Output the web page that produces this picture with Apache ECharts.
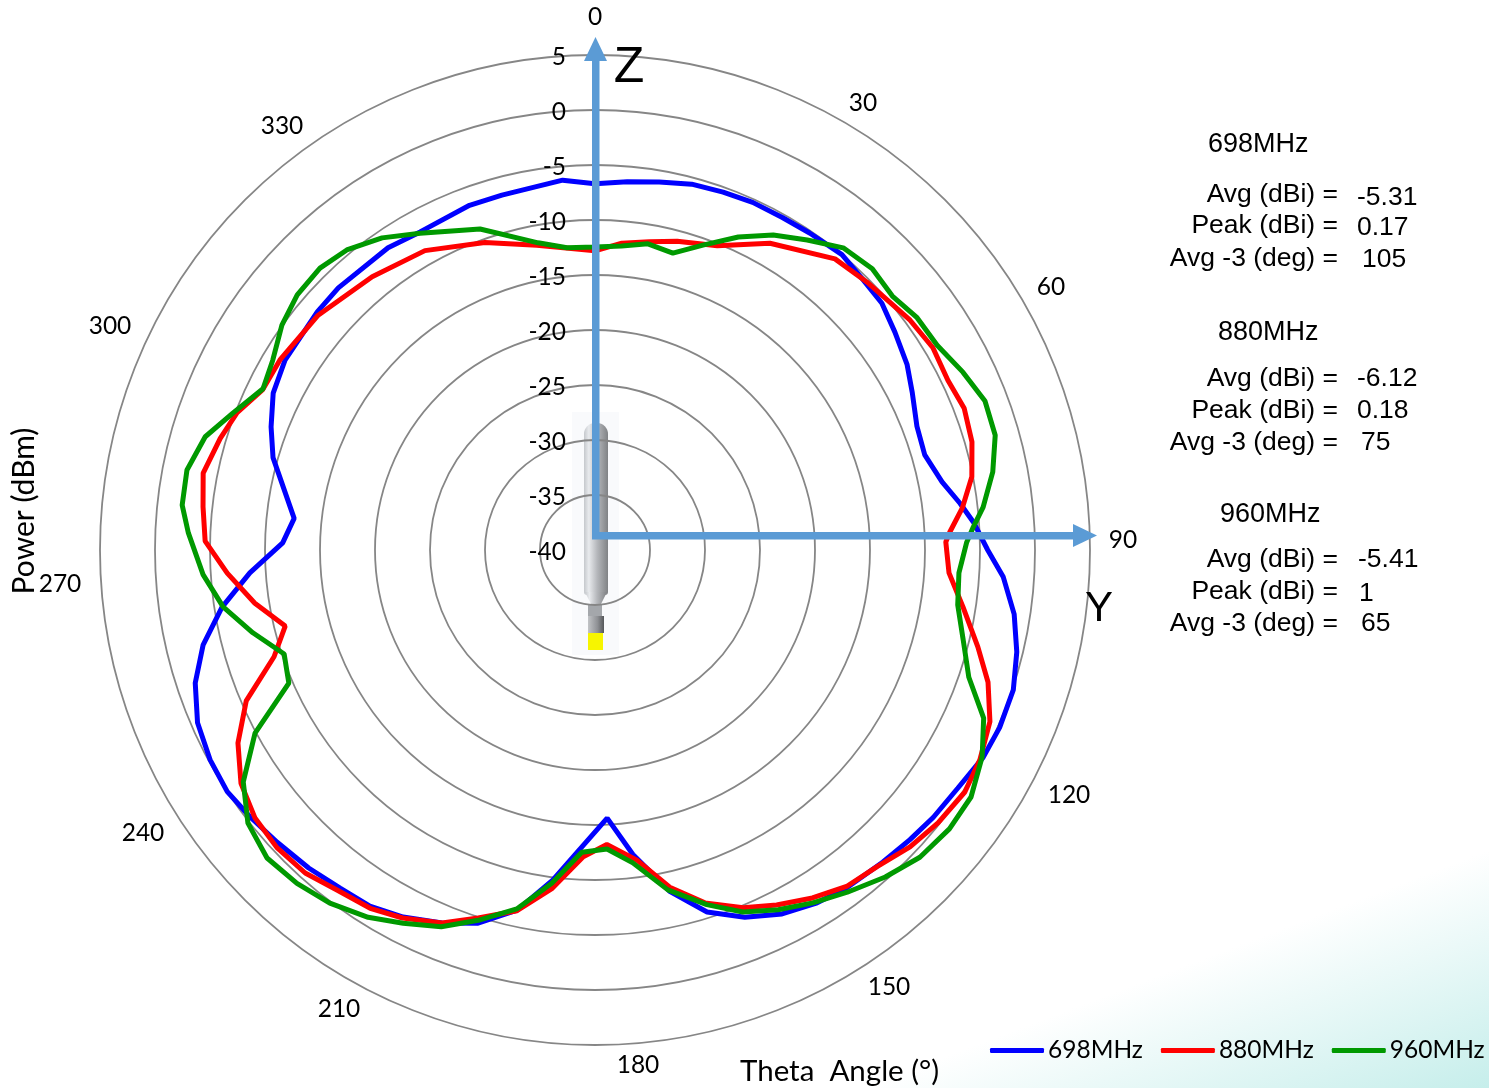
<!DOCTYPE html>
<html>
<head>
<meta charset="utf-8" />
<script src="https://cdn.jsdelivr.net/npm/echarts@6/dist/echarts.min.js"></script>
<style>html,body{margin:0;padding:0;background:#fff;}</style>
</head>
<body>
<div id="main" style="width:1489px;height:1088px;"></div>
<script type="text/javascript">
// [theta deg, power dBm]
var trace698 = [[0,-6.7],[5,-6.4],[9.9,-6.05],[14.8,-5.6],[19.7,-5.45],[24.4,-5.3],[29.4,-5.3],[34.1,-5.2],[39.9,-5],[44.8,-5.4],[49.3,-5.6],[54,-6.3],[59.3,-7],[63.6,-7.8],[69,-8.65],[73.9,-8.8],[78.9,-7.85],[82.7,-6.55],[85.8,-5.5],[90,-4.3],[93.8,-2.8],[98.7,-1.45],[103.6,-0.55],[108.5,0.1],[113.7,0.17],[118.2,0],[123.3,-0.55],[128.3,-0.8],[132.6,-1.1],[137.3,-1.4],[143.3,-1.7],[147.8,-2.1],[152.8,-2.8],[157.8,-3.95],[162.8,-5.55],[167.6,-8.2],[172.9,-12.1],[177.4,-15.6],[187.3,-9.75],[192.2,-6.5],[197.4,-4.45],[202.3,-3.35],[207.6,-2.35],[212.3,-1.7],[217,-1.5],[222,-1.1],[227.4,-0.75],[232.3,-0.35],[236.7,0],[241.4,-0.15],[246.5,-0.6],[251.6,-1.7],[256.4,-3.35],[261.3,-5.7],[266.2,-8.55],[271.3,-11.6],[276,-12.5],[286,-9.55],[290.8,-8.5],[296,-7.45],[301.5,-6.95],[310.6,-6.75],[315.6,-6.65],[325.6,-6.7],[331.2,-7],[340,-6.65],[345.3,-6.65],[355,-6.25]];
var trace880 = [[0,-12.8],[5,-12],[10,-11.55],[14.9,-10.95],[21.9,-10.2],[29.7,-7.9],[39.5,-5.7],[45.4,-5.3],[53.9,-4.55],[59.1,-4.2],[64.3,-4.4],[69,-4.05],[74,-4.35],[79,-5.1],[83.5,-6.4],[87.1,-7.7],[88.7,-8.1],[93.7,-7.75],[98.8,-6.15],[104.2,-4.1],[108.6,-2.3],[113.5,-0.85],[118.6,-0.15],[123.2,0.18],[128.5,-0.15],[133.3,-0.65],[138.3,-1.45],[143.1,-1.8],[148,-2.7],[152.9,-3.75],[157.5,-4.8],[162.7,-6.4],[167.5,-8.6],[172.3,-11.55],[177.7,-13.2],[182.2,-12.1],[187.2,-9],[192.2,-6.45],[197.6,-4.9],[202.3,-3.35],[207.6,-2.25],[212.1,-1.55],[217.2,-1.2],[221.9,-0.55],[226.9,-0.4],[231.8,-0.65],[236.6,-1.45],[241.6,-3.1],[246.6,-5.45],[251.6,-9.25],[256.2,-11],[261.1,-8.7],[266.4,-6.5],[271.3,-4.55],[276.3,-4.15],[281.1,-3.7],[286.6,-4.45],[291,-5.15],[295.7,-6.45],[301.1,-6.55],[310.3,-7],[320.8,-7.95],[330.4,-8.7],[340.3,-10.3],[349.2,-11.8]];
var trace960 = [[0,-12.45],[5,-12.25],[9.8,-11.75],[14.7,-12.1],[19.5,-10.6],[24.6,-8.7],[29.5,-7.1],[34.4,-5.85],[39.4,-4.45],[44.6,-4.1],[49.5,-4.45],[54.2,-3.9],[59.1,-3.75],[64.2,-2.85],[69.1,-2.05],[74,-2.15],[78.9,-3.15],[83.7,-4.5],[86.7,-5.6],[88.8,-6.2],[93.6,-6.85],[98.6,-6.65],[103.7,-5.55],[108.8,-4.1],[113.4,-1.5],[118.1,-0.1],[123.3,0.9],[128.2,1],[133.4,0.65],[138.4,-0.25],[143.6,-1.35],[148.3,-2.3],[153,-3.3],[157.8,-4.45],[162.5,-6.2],[167.9,-8.4],[173.1,-11.35],[177.7,-12.8],[182.5,-12.5],[187.4,-9.45],[192.3,-6.6],[197.5,-4.7],[202.2,-3],[207.2,-1.85],[211.7,-0.75],[216.9,0.15],[221.8,0.65],[226.8,0.9],[231.8,0.15],[236.6,-1.7],[241.7,-4.9],[246.5,-9.65],[251.5,-10.2],[256.4,-8],[261.3,-5.8],[266.4,-4.3],[272.4,-3],[276.2,-2.25],[281.1,-2.2],[286.2,-3.1],[290.7,-4.8],[295.9,-6.45],[300.5,-6],[305.7,-4.95],[310.6,-4.35],[315.7,-4.2],[320.4,-4.6],[325.7,-5.65],[331.1,-7.1],[340.3,-9],[349.5,-11.6],[354.7,-12.4]];

var seriesNames = ['698MHz', '880MHz', '960MHz'];
var seriesColors = ['#0000ff', '#ff0000', '#009900'];
var thetaTicks = ['0', '30', '60', '90', '120', '150', '180', '210', '240', '270', '300', '330'];
var statAvg = ['-5.31', '-6.12', '-5.41'];
var statPeak = ['0.17', '0.18', '1'];
var statBeam = ['105', '75', '65'];

var chartDom = document.getElementById('main');
var myChart = echarts.init(chartDom);

var tickFont = 'Lato';
var noteFont = '"Liberation Sans"';

function closed(trace) {
    var pts = trace.map(function (p) { return [p[1], p[0]]; });
    pts.push(pts[0]);
    return pts;
}

function txt(s, x, y, size, family, align, extra) {
    var el = {
        type: 'text', x: x, y: y + 2, z: 50,
        style: { text: s, fill: '#000', font: size + 'px ' + family, textAlign: align || 'left', textVerticalAlign: 'middle' }
    };
    if (extra) { for (var k in extra) el[k] = extra[k]; }
    return el;
}

// label spots are hand placed, the original ones do not sit on a clean circle
var thetaSpots = [[595, 15], [863, 101], [1051, 285], [1123, 538], [1069, 793], [889, 985], [638, 1063], [339, 1007], [143, 831], [60, 582], [110, 324], [282, 124]];
var graphics = [];

// teal corner wash
graphics.push({
    type: 'rect', z: -10, shape: { x: 0, y: 0, width: 1489, height: 1088 },
    style: { fill: new echarts.graphic.LinearGradient(1489, 850, 1568, 1058, [{ offset: 0, color: '#ffffff' }, { offset: 1, color: '#c6eeeb' }], true) }
});

// antenna
graphics.push({ type: 'rect', z: -9, shape: { x: 572, y: 412, width: 47, height: 243 }, style: { fill: '#f9fafc' } });
var bodyFill = new echarts.graphic.LinearGradient(0, 0, 1, 0, [{ offset: 0, color: '#c5c8cc' }, { offset: 0.2, color: '#e8eaed' }, { offset: 0.55, color: '#b5b7bb' }, { offset: 1, color: '#808285' }]);
graphics.push({ type: 'rect', z: -8, shape: { x: 584, y: 423, width: 24, height: 172, r: [11, 11, 3, 3] }, style: { fill: bodyFill } });
graphics.push({ type: 'polygon', z: -8, shape: { points: [[585, 592], [607, 592], [601, 604], [591, 604]] }, style: { fill: bodyFill } });
graphics.push({ type: 'rect', z: -8, shape: { x: 588, y: 604, width: 14, height: 12 }, style: { fill: '#a4a7ab' } });
graphics.push({ type: 'rect', z: -8, shape: { x: 588, y: 616, width: 16, height: 17 }, style: { fill: new echarts.graphic.LinearGradient(0, 0, 1, 0, [{ offset: 0, color: '#c2c4c7' }, { offset: 0.6, color: '#8e9094' }, { offset: 1, color: '#55575a' }]) } });
graphics.push({ type: 'rect', z: -8, shape: { x: 588, y: 633, width: 15, height: 17 }, style: { fill: '#f7f500' } });

// Z and Y arrows, on top of the traces
var arrowBlue = '#5b9bd5';
graphics.push({ type: 'rect', z: 40, shape: { x: 592, y: 60, width: 7.5, height: 479 }, style: { fill: arrowBlue } });
graphics.push({ type: 'polygon', z: 40, shape: { points: [[595.5, 37], [607, 61], [584, 61]] }, style: { fill: arrowBlue } });
graphics.push({ type: 'rect', z: 40, shape: { x: 592, y: 532, width: 483, height: 7.5 }, style: { fill: arrowBlue } });
graphics.push({ type: 'polygon', z: 40, shape: { points: [[1097, 535.5], [1073, 524], [1073, 547]] }, style: { fill: arrowBlue } });
graphics.push(txt('Z', 629, 66, 50, noteFont, 'center'));
graphics.push(txt('Y', 1099, 607, 42, noteFont, 'center'));

thetaTicks.forEach(function (t, i) {
    graphics.push(txt(t, thetaSpots[i][0], thetaSpots[i][1], 24.5, tickFont, 'center'));
});

graphics.push(txt('Power (dBm)', 24, 509, 30, tickFont, 'center', { rotation: Math.PI / 2 }));
graphics.push(txt('Theta  Angle (°)', 740, 1069, 29.5, tickFont, 'left'));

// side notes, one block per band
var noteHeadX = [1208, 1218, 1220];
var noteTop = [143, 331, 513];
var noteY = [[193, 224, 257], [377, 409, 441], [558, 590, 622]];
var noteValY = [[196, 226, 258], [377, 409, 441], [558, 592, 622]];
var noteValX = [[1357, 1357, 1362], [1357, 1357, 1361], [1358, 1359, 1361]];
seriesNames.forEach(function (name, i) {
    graphics.push(txt(name, noteHeadX[i], noteTop[i], 27, noteFont, 'left'));
    graphics.push(txt('Avg (dBi) =', 1338, noteY[i][0], 26.5, noteFont, 'right'));
    graphics.push(txt('Peak (dBi) =', 1338, noteY[i][1], 26.5, noteFont, 'right'));
    graphics.push(txt('Avg -3 (deg) =', 1338, noteY[i][2], 26.5, noteFont, 'right'));
    graphics.push(txt(statAvg[i], noteValX[i][0], noteValY[i][0], 26.5, noteFont, 'left'));
    graphics.push(txt(statPeak[i], noteValX[i][1], noteValY[i][1], 26.5, noteFont, 'left'));
    graphics.push(txt(statBeam[i], noteValX[i][2], noteValY[i][2], 26.5, noteFont, 'left'));
});

var option = {
    animation: false,
    backgroundColor: '#fff',
    polar: { center: [595, 550], radius: 495 },
    angleAxis: {
        type: 'value', min: 0, max: 360, interval: 30, startAngle: 90, clockwise: true,
        axisLine: { show: false }, axisTick: { show: false }, axisLabel: { show: false }, splitLine: { show: false }
    },
    radiusAxis: {
        type: 'value', min: -40, max: 5, interval: 5,
        axisLine: { show: false }, axisTick: { show: false },
        axisLabel: {
            show: true, margin: 29, hideOverlap: false, showMinLabel: true, showMaxLabel: true,
            formatter: '{t|{value}}',
            rich: { t: { color: '#000', fontFamily: tickFont, fontSize: 24.5, padding: [4, 0, 0, 0] } }
        },
        splitLine: { show: true, lineStyle: { color: '#868686', width: 1.8 } }
    },
    legend: {
        left: 990, top: 1038, padding: 0, width: 499, orient: 'horizontal', itemWidth: 54, itemHeight: 5, itemGap: 18,
        icon: 'roundRect', data: seriesNames,
        textStyle: { fontFamily: tickFont, fontSize: 24.5, color: '#000', padding: [0, 0, 0, -1] }
    },
    series: [
        { name: seriesNames[0], type: 'line', coordinateSystem: 'polar', showSymbol: false, data: closed(trace698), lineStyle: { color: seriesColors[0], width: 5 }, itemStyle: { color: seriesColors[0] } },
        { name: seriesNames[1], type: 'line', coordinateSystem: 'polar', showSymbol: false, data: closed(trace880), lineStyle: { color: seriesColors[1], width: 5 }, itemStyle: { color: seriesColors[1] } },
        { name: seriesNames[2], type: 'line', coordinateSystem: 'polar', showSymbol: false, data: closed(trace960), lineStyle: { color: seriesColors[2], width: 5 }, itemStyle: { color: seriesColors[2] } }
    ],
    graphic: { elements: graphics }
};
myChart.setOption(option);
</script>
</body>
</html>
